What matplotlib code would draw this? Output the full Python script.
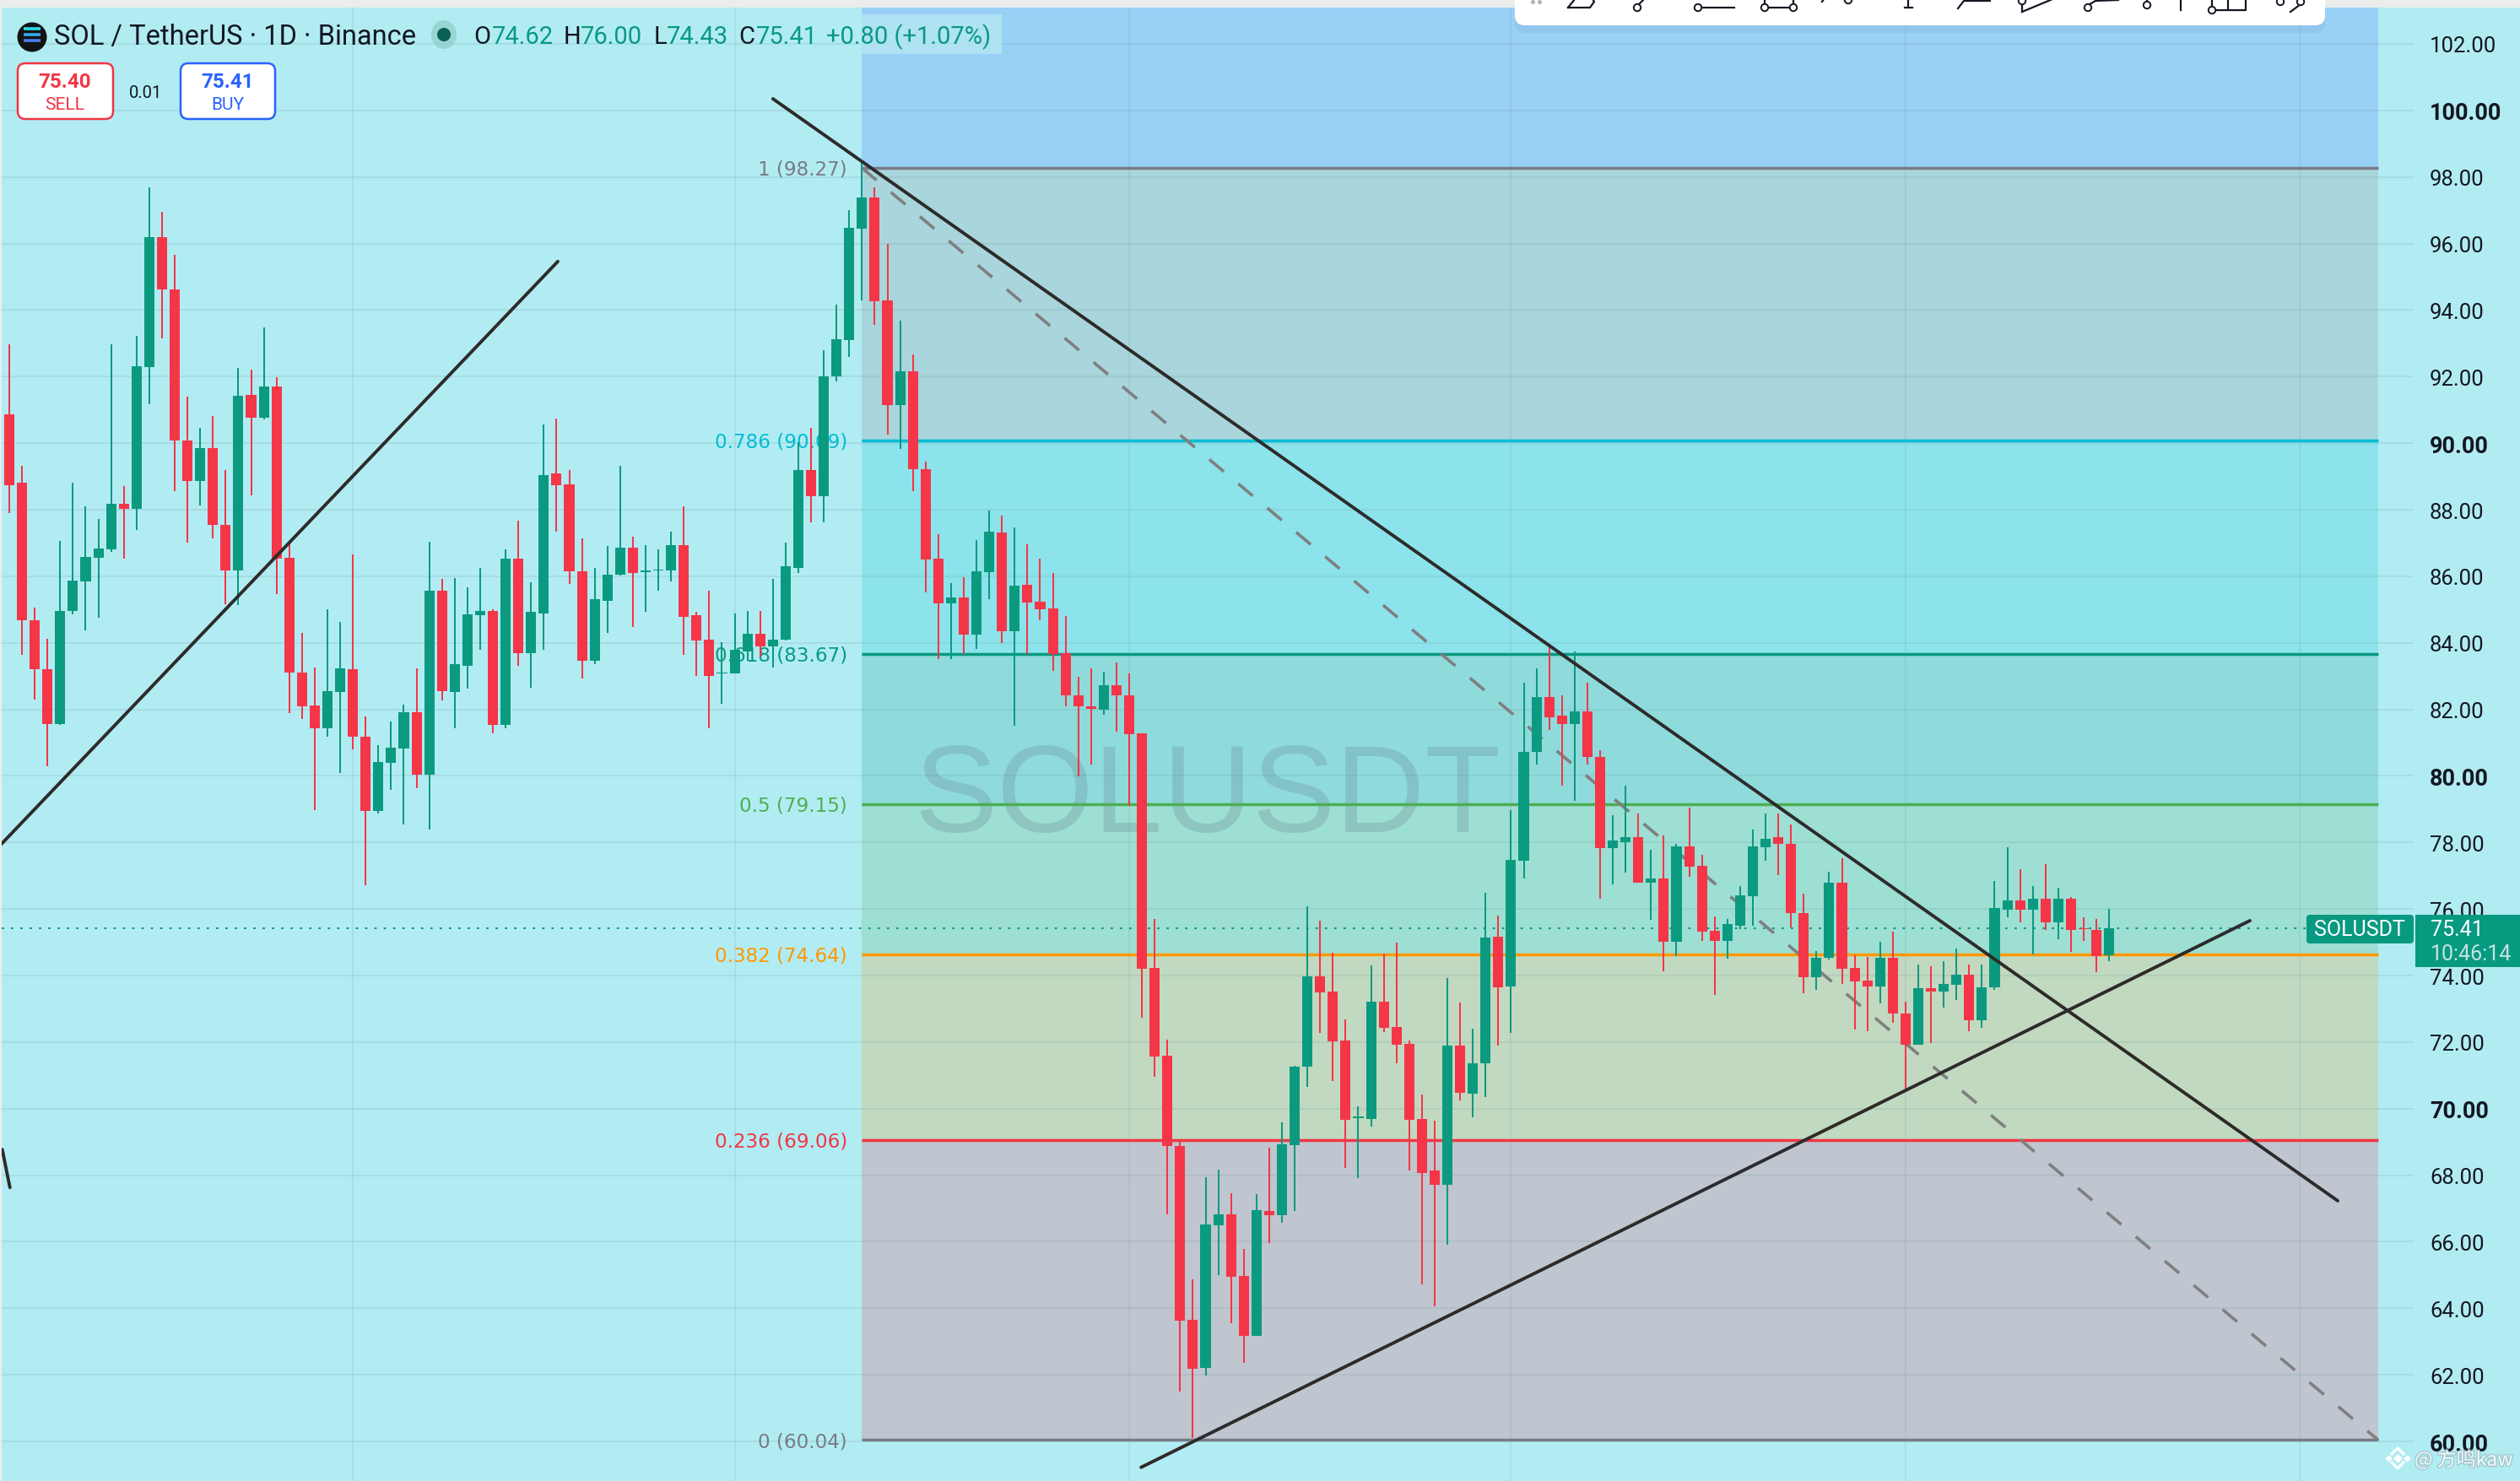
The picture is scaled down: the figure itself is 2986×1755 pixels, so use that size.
import numpy as np
import matplotlib
matplotlib.use('Agg')
import matplotlib.pyplot as plt
import matplotlib.patheffects as pe
from matplotlib.patches import Rectangle, FancyBboxPatch, Circle, Ellipse

################################################################################
# Data
################################################################################

opens = [90.87,88.80,84.69,83.20,81.57,84.95,85.85,86.56,86.82,88.19,
	88.03,92.29,96.19,94.62,90.08,88.87,89.86,87.55,86.18,91.45,
	90.77,91.71,86.55,83.10,82.11,81.44,82.53,83.20,81.19,78.94,
	80.38,80.82,81.91,80.03,85.57,82.53,83.32,84.82,84.95,81.53,
	86.52,83.70,84.89,89.08,88.77,86.15,83.45,85.27,86.04,86.87,
	86.13,86.17,86.18,86.94,84.82,84.09,83.07,83.07,83.75,84.26,
	83.90,84.09,86.26,89.18,88.41,92.02,93.10,96.45,97.39,94.29,
	91.15,92.16,89.22,86.52,85.19,85.37,84.25,86.12,87.32,84.36,
	85.75,85.24,85.04,83.69,82.42,82.10,82.00,82.72,82.43,81.27,
	74.23,71.59,68.88,63.65,62.21,66.50,66.82,64.96,63.17,66.93,
	66.81,68.91,71.27,73.98,73.52,72.05,69.72,69.70,73.22,72.45,
	71.95,69.70,68.13,67.70,71.90,70.45,71.37,75.16,73.67,77.44,
	80.71,82.36,81.80,81.57,81.95,80.58,77.82,78.02,78.15,76.78,
	76.93,75.01,77.87,77.29,75.34,75.03,75.51,76.38,77.85,78.15,
	77.97,75.89,73.94,74.53,76.78,74.22,73.84,73.67,74.53,72.87,
	71.92,73.63,73.53,73.73,74.03,72.66,73.65,75.99,76.27,75.99,
	76.30,75.61,76.30,75.42,75.36,74.62]

closes = [88.74,84.69,83.20,81.57,84.96,85.88,86.59,86.84,88.19,88.02,
	92.32,96.19,94.61,90.07,88.87,89.86,87.55,86.18,91.43,90.77,
	91.71,86.52,83.10,82.08,81.43,82.56,83.22,81.17,78.94,80.41,
	80.85,81.91,80.03,85.57,82.56,83.35,84.85,84.95,81.53,86.52,
	83.70,84.92,89.05,88.74,86.14,83.45,85.30,86.04,86.87,86.11,
	86.18,86.21,86.94,84.79,84.06,83.01,83.11,83.78,84.26,83.90,
	84.10,86.29,89.18,88.41,92.02,93.12,96.47,97.39,94.27,91.15,
	92.16,89.22,86.50,85.19,85.37,84.25,86.16,87.34,84.36,85.73,
	85.22,85.02,83.67,82.42,82.08,82.02,82.72,82.42,81.25,74.21,
	71.57,68.88,63.63,62.19,66.52,66.82,64.94,63.17,66.95,66.79,
	68.94,71.27,73.98,73.50,72.02,69.67,69.77,73.22,72.43,71.93,
	69.67,68.07,67.70,71.90,70.48,71.37,75.14,73.65,77.47,80.73,
	82.36,81.77,81.57,81.95,80.56,77.82,78.05,78.15,76.78,76.93,
	75.01,77.87,77.26,75.31,75.03,75.54,76.40,77.87,78.12,77.95,
	75.87,73.94,74.53,76.78,74.20,73.82,73.67,74.53,72.85,71.92,
	73.63,73.53,73.76,74.03,72.66,73.65,76.02,76.27,75.97,76.30,
	75.61,76.30,75.38,75.39,74.59,75.41]

highs = [92.98,89.33,85.06,84.13,87.07,88.82,88.09,87.71,92.98,88.71,
	93.22,97.69,96.96,95.67,91.41,90.47,90.82,89.19,92.26,92.22,
	93.49,91.99,87.04,84.31,83.25,85.01,84.64,86.66,81.78,80.92,
	81.63,82.13,83.22,87.03,85.91,85.95,85.67,86.26,85.02,86.82,
	87.68,85.83,90.55,90.75,89.18,87.13,86.24,86.90,89.33,87.20,
	86.94,86.82,87.33,88.09,84.93,85.57,84.03,84.87,84.96,84.96,
	85.91,87.00,90.04,90.45,92.80,94.17,97.00,98.42,97.69,95.99,
	93.68,92.67,89.45,87.27,85.79,85.96,87.08,87.98,87.83,87.47,
	86.97,86.52,86.10,84.81,82.98,83.22,83.13,83.41,83.09,81.27,
	75.71,72.08,69.08,64.87,67.94,68.18,67.47,65.79,67.43,68.82,
	69.59,71.29,76.08,75.65,74.69,72.69,70.08,74.30,74.66,74.99,
	72.05,70.43,69.65,73.93,73.19,72.41,76.49,75.80,78.96,82.79,
	83.22,83.98,82.43,83.75,82.79,80.78,78.83,79.70,78.88,77.79,
	78.20,77.95,79.04,77.64,75.77,75.69,76.70,78.38,78.88,78.86,
	78.55,76.45,74.73,77.11,77.52,74.60,74.55,75.01,75.31,73.22,
	74.34,74.29,74.43,74.82,74.34,74.34,76.83,77.85,77.19,76.68,
	77.34,76.63,76.35,75.74,75.71,76.00]

lows = [87.91,83.65,82.29,80.28,81.53,84.85,84.37,84.76,86.72,86.52,
	87.38,91.17,93.15,88.57,87.00,88.13,87.14,85.15,85.14,88.44,
	90.72,85.46,81.88,81.70,78.97,81.17,80.10,80.79,76.71,78.87,
	79.57,78.53,79.62,78.39,82.26,81.43,82.63,83.80,81.27,81.43,
	83.32,82.66,83.80,87.35,85.78,82.94,83.35,84.31,86.01,84.48,
	84.92,85.56,85.85,83.65,83.00,81.43,82.18,83.07,83.45,83.58,
	83.25,84.06,86.11,87.61,87.61,91.86,92.59,94.30,93.56,90.26,
	89.83,88.56,85.51,83.50,83.50,83.67,83.82,85.30,83.99,81.50,
	83.67,84.68,83.15,82.08,79.98,80.34,81.85,81.33,79.10,72.73,
	70.96,66.82,61.50,60.10,61.99,65.00,63.56,62.36,63.17,65.96,
	66.58,66.93,70.66,72.28,70.84,68.23,67.92,69.47,72.30,71.37,
	68.15,64.71,64.06,65.92,70.26,69.74,70.35,71.90,72.27,76.91,
	80.35,81.37,79.70,79.24,80.35,76.30,76.73,77.09,76.78,75.67,
	74.12,74.58,76.96,75.03,73.41,74.50,75.39,75.51,77.44,77.01,
	75.44,73.46,73.56,74.48,73.74,72.37,72.32,73.16,72.58,70.55,
	71.92,71.98,73.04,73.27,72.33,72.43,73.58,75.74,75.59,74.64,
	75.36,75.10,74.70,75.05,74.11,74.43]

# Fibonacci levels, top to bottom
fib_ratios = ['1', '0.786', '0.618', '0.5', '0.382', '0.236', '0']
fib_prices = [98.27, 90.09, 83.67, 79.15, 74.64, 69.06, 60.04]
fib_lines = ['#787b86', '#00bcd4', '#089981', '#4caf50', '#ff9800', '#f23645', '#787b86']
fib_labels = ['#787b86', '#00bcd4', '#089981', '#4caf50', '#ff9800', '#f23645', '#787b86']
fib_fills = ['#a9d5dc', '#8ce3eb', '#8fdbdc', '#9ddfd3', '#c1d9c0', '#bfc6cf']

price_ticks = [60, 62, 64, 66, 68, 70, 72, 74, 76, 78, 80, 82, 84, 86, 88, 90, 92, 94, 96, 98, 100, 102]
bold_ticks = [60, 70, 80, 90, 100]
time_grid = [27, 57, 88, 118, 149, 180]

# Drawn trend lines: (bar, price) end points
up_left = ([-0.6, 43.1], [77.96, 95.46])
stub_left = ([-0.55, 0.05], [68.77, 67.63])
down_solid = ([60.0, 182.96], [100.35, 67.23])
up_bottom = ([88.93, 176.06], [59.22, 75.65])
fib_diagonal = ([67.0, 186.14], [98.27, 60.04])

last_price = 75.41

# Drawing toolbar icons cut off at the top of the screen, in pixels
toolbar_lines = [
	([1858, 1884, 1889, 1887], [10, 10, 3, 0]), ([1866, 1858], [0, 10]),
	([1942, 1948], [6, 0]), ([2017, 2055], [10, 10]), ([2096, 2120], [10, 10]),
	([2091, 2091], [0, 6]), ([2125, 2125], [0, 6]), ([2159, 2161], [3, 0]),
	([2261, 2261], [0, 10]), ([2257, 2266], [10, 10]),
	([2320, 2327, 2358, 2358], [11, 2, 2, 0]),
	([2396, 2432], [15, 0]), ([2396, 2396], [6, 15]),
	([2476, 2483, 2510], [6, 2, 1]), ([2544, 2544], [0, 3]), ([2584, 2584], [0, 13]),
	([2626, 2661, 2661], [13, 13, 0]), ([2640, 2640], [0, 12]), ([2621, 2621], [0, 9]),
	([2714, 2726], [15, 6]),
]
toolbar_circles = [(1940, 10), (2012, 10), (2091, 10), (2125, 10), (2190, 1), (2396, 2),
	(2474, 10), (2544, 7), (2621, 13), (2702, 3), (2726, 3)]

################################################################################
# Drawing
################################################################################

def y_at(pixel):
	return 102 - (pixel - 53) / 39.43

def x_at(pixel):
	return (pixel - 11) / 15.08

def main():

	plt.rcParams['font.family'] = ['Roboto', 'DejaVu Sans']

	fig = plt.figure(figsize = (29.86, 17.56), dpi = 100, facecolor = '#ebeded')
	ax = fig.add_axes([2 / 2986, 0, 1 - 2 / 2986, 1 - 10 / 1756], facecolor = '#b2ecf3')
	ax.set_xlim(x_at(2), x_at(2986))
	ax.set_ylim(y_at(1756), y_at(10))
	for s in ax.spines.values():
		s.set_visible(False)

	# Fib zones
	left, right = 67, x_at(2818)
	ax.add_patch(Rectangle((left, fib_prices[0]), right - left, y_at(10) - fib_prices[0],
		facecolor = '#99d0f6', edgecolor = 'none', zorder = 1))
	for i, col in enumerate(fib_fills):
		ax.add_patch(Rectangle((left, fib_prices[i + 1]), right - left, fib_prices[i] - fib_prices[i + 1],
			facecolor = col, edgecolor = 'none', zorder = 1))

	# Grid
	ax.hlines(price_ticks, x_at(2), x_at(2860), color = '#6f97a0', alpha = 0.17, lw = 1.5, zorder = 2)
	ax.vlines(time_grid, y_at(1756), y_at(10), color = '#6f97a0', alpha = 0.15, lw = 1.5, zorder = 2)

	# Watermark under the candles
	ax.text(x_at(1431), y_at(948), 'SOLUSDT', fontsize = 106, color = '#5f7480', alpha = 0.24,
		ha = 'center', va = 'center', family = ['Liberation Sans'], zorder = 2.5)

	# Fib lines and labels
	for ratio, price, lc, tc in zip(fib_ratios, fib_prices, fib_lines, fib_labels):
		ax.hlines(price, left, right, color = lc, lw = 2.5, zorder = 3)
		ax.text(x_at(1004), price - 0.03, '%s (%.2f)' % (ratio, price), color = tc, fontsize = 16.6,
			family = ['DejaVu Sans'], ha = 'right', va = 'center', zorder = 3)

	# Candles
	idx = np.arange(len(opens))
	o, c = np.array(opens), np.array(closes)
	col = np.where(c >= o, '#0b9a80', '#f43648')
	ax.vlines(idx, lows, highs, colors = col, lw = 1.45, zorder = 4)
	ax.bar(idx, np.abs(c - o), bottom = np.minimum(o, c), width = 0.8, color = col, linewidth = 0, zorder = 4.5)

	# Last price line
	ax.hlines(last_price, x_at(2), x_at(2733), color = '#089981', lw = 1.5, linestyles = (0, (1.3, 4)), zorder = 3.5)

	# Trend lines
	for pts in [up_left, stub_left, down_solid, up_bottom]:
		ax.plot(pts[0], pts[1], color = '#2d2b2a', lw = 2.8, solid_capstyle = 'round', zorder = 6)
	ax.plot(fib_diagonal[0], fib_diagonal[1], color = '#7f7f80', lw = 2.6, dashes = (6.2, 6.2),
		dash_capstyle = 'butt', zorder = 3.8)

	# Price scale
	ax.yaxis.tick_right()
	ax.set_yticks(price_ticks)
	ax.set_yticklabels(['%.2f' % t for t in price_ticks])
	ax.tick_params(axis = 'y', length = 0, pad = -77, labelsize = 18.5, labelcolor = '#131722')
	for t, lab in zip(price_ticks, ax.get_yticklabels()):
		lab.set_ha('left')
		lab.set_zorder(8)
		if t in bold_ticks:
			lab.set_fontweight('bold')
			lab.set_fontsize(19.5)
	ax.set_xticks([])

	################################################################################
	# Screen furniture, in pixels
	################################################################################
	ui = fig.add_axes([0, 0, 1, 1], facecolor = 'none')
	ui.set_xlim(0, 2986)
	ui.set_ylim(1756, 0)
	ui.axis('off')

	# Header
	ui.add_patch(Rectangle((1021, 18), 166, 47, facecolor = '#b4e6f2', edgecolor = 'none', alpha = 0.85))
	ui.add_patch(Circle((38, 45), 17.5, facecolor = '#131313', edgecolor = 'none'))
	for yy, cc in zip([35, 42, 49], ['#2fd6e0', '#38a8ee', '#4c7df0']):
		ui.plot([28, 48], [yy, yy], color = cc, lw = 2.6, solid_capstyle = 'butt')
	ui.text(64, 44, 'SOL / TetherUS · 1D · Binance', fontsize = 23.5, color = '#131722', va = 'center')
	ui.add_patch(Ellipse((526, 42), 30, 34, facecolor = '#8fd0cc', edgecolor = 'none', alpha = 0.8))
	ui.add_patch(Circle((526, 42), 8, facecolor = '#0b5e52', edgecolor = 'none'))

	green = '#089981'
	for xx, tt, cc in [(561, 'O', '#131722'), (583, '74.62', green), (668, 'H', '#131722'), (688, '76.00', green),
		(775, 'L', '#131722'), (790, '74.43', green), (875, 'C', '#131722'), (896, '75.41', green),
		(979, '+0.80 (+1.07%)', green)]:
		ui.text(xx, 44, tt, fontsize = 21, color = cc, va = 'center')

	# Sell / buy
	ui.add_patch(FancyBboxPatch((27, 82), 101, 54, boxstyle = 'round,pad=6,rounding_size=9',
		facecolor = 'white', edgecolor = '#f23645', lw = 1.8))
	ui.add_patch(FancyBboxPatch((220, 82), 100, 54, boxstyle = 'round,pad=6,rounding_size=9',
		facecolor = 'white', edgecolor = '#2962ff', lw = 1.8))
	ui.text(77, 97, '75.40', fontsize = 17.5, fontweight = 'bold', color = '#f23645', ha = 'center', va = 'center')
	ui.text(77, 125, 'SELL', fontsize = 15, color = '#f23645', ha = 'center', va = 'center')
	ui.text(270, 97, '75.41', fontsize = 17.5, fontweight = 'bold', color = '#2962ff', ha = 'center', va = 'center')
	ui.text(270, 125, 'BUY', fontsize = 15, color = '#2962ff', ha = 'center', va = 'center')
	ui.text(173, 110, '0.01', fontsize = 14.5, color = '#131722', ha = 'center', va = 'center')

	# Toolbar
	ui.add_patch(FancyBboxPatch((1803, -30), 944, 62, boxstyle = 'round,pad=8,rounding_size=12',
		facecolor = '#5f8fb0', edgecolor = 'none', alpha = 0.13, zorder = 1))
	ui.add_patch(FancyBboxPatch((1803, -30), 944, 53, boxstyle = 'round,pad=8,rounding_size=12',
		facecolor = 'white', edgecolor = 'none', zorder = 2))
	for xs, ys in toolbar_lines:
		ui.plot(xs, ys, color = '#131722', lw = 1.6, zorder = 3, clip_on = True)
	for xx, yy in toolbar_circles:
		ui.add_patch(Circle((xx, yy), 4.2, facecolor = 'white', edgecolor = '#131722', lw = 1.4, zorder = 3))
	ui.scatter([1816, 1824], [3, 3], s = 7, color = '#b0b3ba', zorder = 3)

	# Price tags
	ui.add_patch(FancyBboxPatch((2733, 1085), 127, 34, boxstyle = 'round,pad=0,rounding_size=4',
		facecolor = green, edgecolor = 'none', zorder = 7))
	ui.add_patch(Rectangle((2862, 1085), 124, 62, facecolor = green, edgecolor = 'none', zorder = 7))
	ui.text(2796, 1102, 'SOLUSDT', fontsize = 18, color = 'white', ha = 'center', va = 'center', zorder = 8)
	ui.text(2880, 1102, '75.41', fontsize = 18, color = 'white', va = 'center', zorder = 8)
	ui.text(2880, 1131, '10:46:14', fontsize = 18, color = '#c4e4de', va = 'center', zorder = 8)

	# Site watermark
	halo = [pe.withStroke(linewidth = 2, foreground = '#90a8ae', alpha = 0.55)]
	for xs, ys in [([2834, 2841, 2848], [1724, 1717, 1724]), ([2834, 2841, 2848], [1734, 1741, 1734])]:
		ui.plot(xs, ys, color = 'white', lw = 2.2, zorder = 8)
	ui.scatter([2830, 2852], [1729, 1729], marker = 'D', s = 11, color = 'white', zorder = 8)
	ui.scatter([2841], [1729], marker = 'D', s = 20, color = 'white', zorder = 8)
	ui.text(2861, 1731, '@ 方鸣kaw', fontsize = 16.5, color = '#f4fbfc', va = 'center',
		family = ['Noto Sans CJK SC', 'DejaVu Sans'], path_effects = halo, zorder = 8)

	fig.savefig('out.png', dpi = 100, facecolor = fig.get_facecolor())


if __name__ == '__main__':
	main()
